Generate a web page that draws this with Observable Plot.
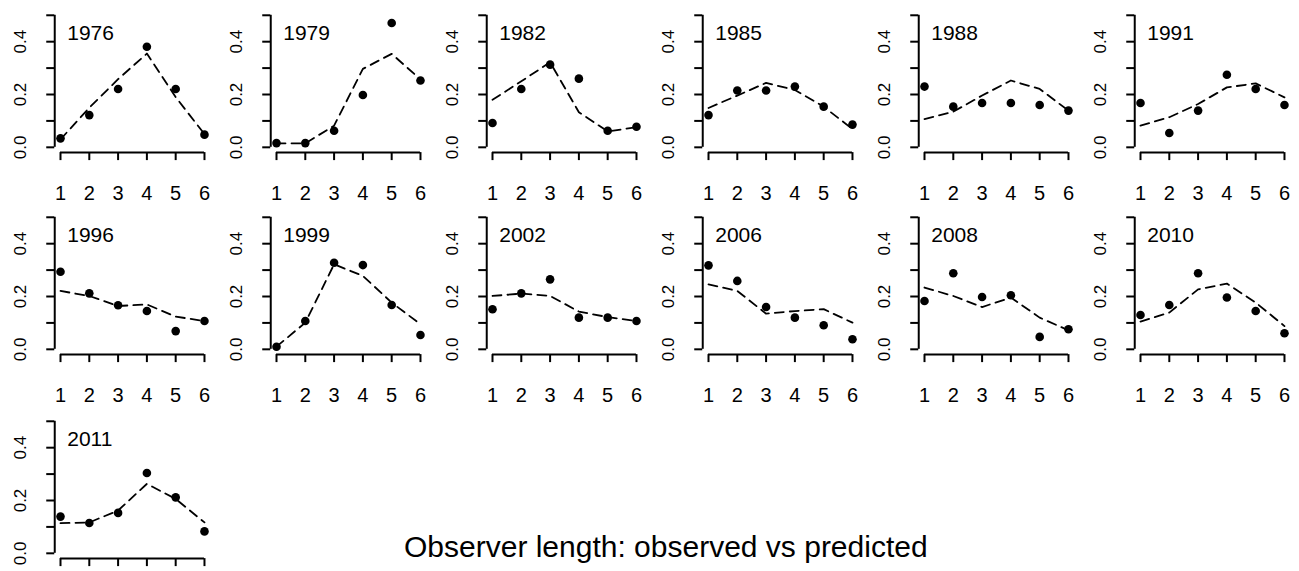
<!DOCTYPE html>
<html>
<head>
<meta charset="utf-8">
<script src="https://cdn.jsdelivr.net/npm/d3@7"></script>
<script src="https://cdn.jsdelivr.net/npm/@observablehq/plot@0.6"></script>
<style>
  html, body { margin: 0; padding: 0; background: #fff; }
  #wrap { position: relative; width: 1299px; height: 571px; overflow: hidden; background: #fff; font-family: "Liberation Sans", Arial, sans-serif; }
  #wrap > svg { position: absolute; }
  #title { position: absolute; left: 404px; top: 532px; font-size: 30px; line-height: 30px; color: #000; white-space: nowrap; }
</style>
</head>
<body>
<div id="wrap"><div id="title"></div></div>
<script>
// ---- data ----
const years = [1976, 1979, 1982, 1985, 1988, 1991, 1996, 1999, 2002, 2006, 2008, 2010, 2011];
const ages = [1, 2, 3, 4, 5, 6];
const observed = [
  [0.034, 0.122, 0.221, 0.381, 0.221, 0.048],
  [0.016, 0.016, 0.063, 0.198, 0.471, 0.253],
  [0.092, 0.221, 0.313, 0.260, 0.063, 0.078],
  [0.122, 0.215, 0.215, 0.230, 0.154, 0.086],
  [0.230, 0.154, 0.168, 0.168, 0.160, 0.139],
  [0.168, 0.054, 0.139, 0.275, 0.221, 0.160],
  [0.294, 0.212, 0.167, 0.145, 0.069, 0.107],
  [0.010, 0.107, 0.328, 0.319, 0.168, 0.054],
  [0.152, 0.212, 0.265, 0.120, 0.120, 0.107],
  [0.318, 0.259, 0.160, 0.120, 0.091, 0.038],
  [0.183, 0.288, 0.198, 0.205, 0.047, 0.076],
  [0.130, 0.168, 0.288, 0.196, 0.145, 0.061],
  [0.139, 0.115, 0.153, 0.304, 0.212, 0.083]
];
const predicted = [
  [0.030, 0.150, 0.258, 0.355, 0.190, 0.050],
  [0.015, 0.015, 0.082, 0.297, 0.354, 0.257],
  [0.180, 0.250, 0.322, 0.133, 0.060, 0.076],
  [0.149, 0.196, 0.244, 0.217, 0.154, 0.069],
  [0.107, 0.135, 0.196, 0.253, 0.221, 0.139],
  [0.082, 0.114, 0.164, 0.227, 0.242, 0.189],
  [0.221, 0.202, 0.164, 0.170, 0.124, 0.107],
  [0.010, 0.101, 0.322, 0.278, 0.177, 0.095],
  [0.202, 0.211, 0.202, 0.143, 0.122, 0.107],
  [0.246, 0.221, 0.135, 0.145, 0.152, 0.101],
  [0.234, 0.202, 0.160, 0.196, 0.120, 0.072],
  [0.105, 0.139, 0.227, 0.249, 0.177, 0.088],
  [0.114, 0.117, 0.162, 0.263, 0.206, 0.117]
];
const yTicks = [0, 0.1, 0.2, 0.3, 0.4, 0.5];
const yTickLabels = [0, 0.2, 0.4];
const xDomain = [0.8, 6.2];
const yDomain = [-0.02, 0.52];
const mainTitle = "Observer length: observed vs predicted";

// ---- layout ----
const ncol = 6;
const colStep = 216;
const rowTops = [0, 202, 406];
const lastRow = Math.floor((years.length - 1) / ncol);
const wrap = document.getElementById("wrap");
document.getElementById("title").textContent = mainTitle;

years.forEach((year, k) => {
  const row = Math.floor(k / ncol);
  const rows = ages.map((a, i) => ({age: a, obs: observed[k][i], pred: predicted[k][i]}));
  const chart = Plot.plot({
    width: 216,
    height: 203,
    marginLeft: 54.24,
    marginRight: 6.26,
    marginTop: 9.5,
    marginBottom: 50.9,
    style: {fontFamily: "'Liberation Sans', Arial, sans-serif", fontSize: "20px", color: "#000", background: "transparent", overflow: "visible"},
    x: {domain: xDomain, axis: null},
    y: {domain: yDomain, axis: null},
    marks: [
      Plot.ruleX([xDomain[0]], {y1: yTicks[0], y2: yTicks[yTicks.length - 1], stroke: "#000", strokeWidth: 2}),
      Plot.ruleY([yDomain[0]], {x1: ages[0], x2: ages[ages.length - 1], stroke: "#000", strokeWidth: 2}),
      Plot.axisY(yTicks, {anchor: "left", tickSize: 8, strokeWidth: 2, tickFormat: () => "", label: null}),
      Plot.text(yTickLabels, {y: d => d, text: d => d.toFixed(1), rotate: -90, frameAnchor: "left", dx: -29, lineAnchor: "bottom", textAnchor: "middle", fontSize: 17, fill: "#000"}),
      Plot.axisX(ages, {anchor: "bottom", tickSize: 8, tickPadding: 25, strokeWidth: 2, fontSize: 20, label: null,
        tickFormat: row === lastRow ? () => "" : d => String(d)}),
      Plot.line(rows, {x: "age", y: "pred", stroke: "#000", strokeWidth: 1.8, strokeDasharray: "9,6"}),
      Plot.dot(rows, {x: "age", y: "obs", r: 4.3, fill: "#000", stroke: "none"}),
      Plot.text([String(year)], {text: d => d, frameAnchor: "top-left", dx: 12.5, dy: 30, lineAnchor: "bottom", textAnchor: "start", fontSize: 21, fill: "#000"})
    ]
  });
  chart.style.left = (colStep * (k % ncol)) + "px";
  chart.style.top = rowTops[row] + "px";
  wrap.appendChild(chart);
});
</script>
</body>
</html>
